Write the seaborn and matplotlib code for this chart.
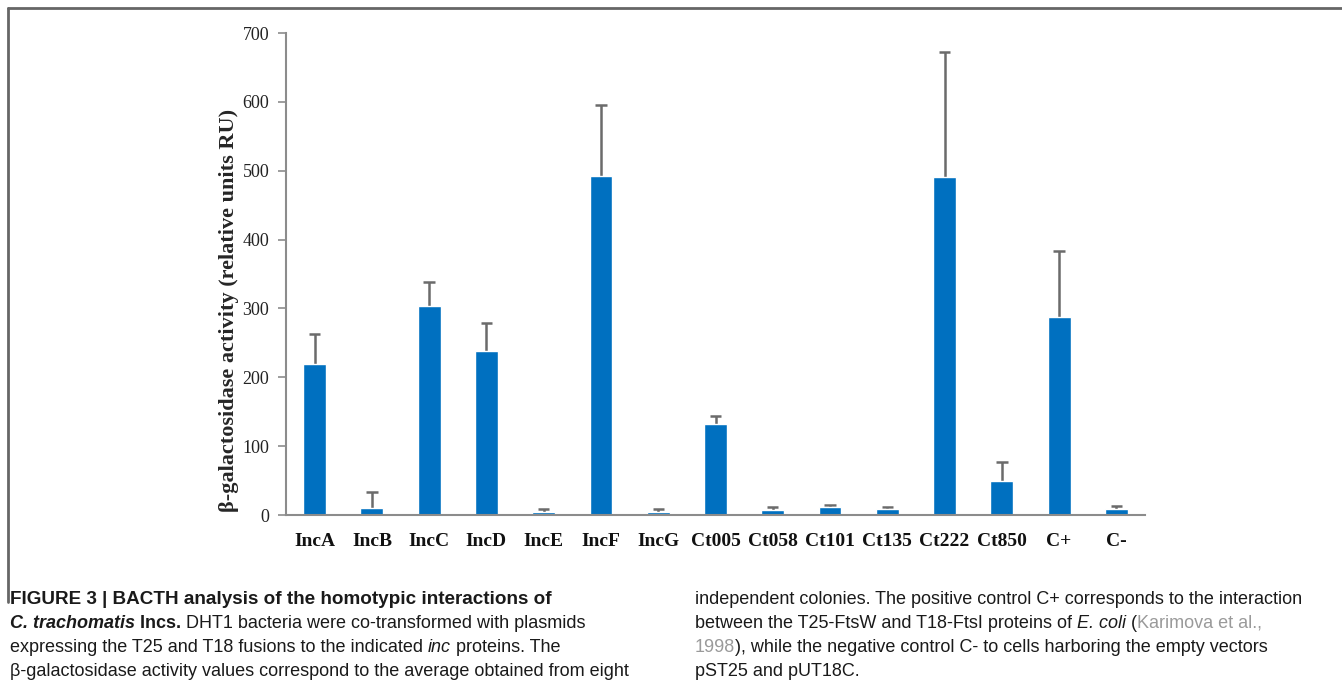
import matplotlib
matplotlib.use("Agg")
import matplotlib.pyplot as plt
import seaborn as sns
import pandas as pd
import numpy as np
from matplotlib.lines import Line2D

# data
constructs = ["IncA", "IncB", "IncC", "IncD", "IncE", "IncF", "IncG", "Ct005",
              "Ct058", "Ct101", "Ct135", "Ct222", "Ct850", "C+", "C-"]
activity = [219, 10, 303, 238, 4, 493, 4, 132, 7, 12, 8, 491, 50, 288, 8]
err_up = [44, 23, 35, 41, 5, 103, 5, 12, 4, 3, 3, 182, 27, 95, 5]
yticks = [0, 100, 200, 300, 400, 500, 600, 700]

BAR = "#0070C0"
AXIS = "#8c8c8c"
ERR = "#6b6b6b"
serif = ["Liberation Serif", "DejaVu Serif"]
sans = ["Liberation Sans Narrow", "Liberation Sans", "DejaVu Sans"]

sns.set_style("white")
plt.rcParams["font.family"] = serif

df = pd.DataFrame({"construct": constructs, "activity": activity})

fig = plt.figure(figsize=(13.42, 6.88), dpi=100)
ax = fig.add_axes([286 / 1342, 1 - 515 / 688, (1145 - 286) / 1342, (515 - 33) / 688])

sns.barplot(data=df, x="construct", y="activity", color=BAR, width=0.4,
            errorbar=None, saturation=1, ax=ax, zorder=2)

# one-sided error bars: whisker from bar top up, cap only at the top
xpos = np.arange(len(constructs))
tops = np.array(activity) + np.array(err_up)
ax.vlines(xpos, activity, tops, color=ERR, lw=1.8, zorder=1)
ax.hlines(tops, xpos - 0.1, xpos + 0.1, color=ERR, lw=1.8, zorder=1)

ax.set_ylim(0, 700)
ax.set_xlim(-0.5, len(constructs) - 0.5)
ax.set_yticks(yticks)
ax.set_yticklabels([str(v) for v in yticks], fontsize=13, color="#222222")
ax.set_xticks(xpos)
ax.set_xticklabels(constructs, fontsize=14, fontweight="bold", color="#111111")
ax.set_xticks(np.arange(len(constructs) + 1) - 0.5, minor=True)
ax.tick_params(axis="x", which="major", length=0, pad=13)
ax.tick_params(axis="x", which="minor", length=5, width=1.2, color=AXIS, direction="out")
ax.tick_params(axis="y", length=6, width=1.2, color=AXIS, direction="out", pad=6, left=True)
ax.set_xlabel("")
ax.set_ylabel("β-galactosidase activity (relative units RU)", fontsize=16,
              fontweight="bold")
ax.yaxis.set_label_coords((239 - 286) / 859, (515 - 310) / 482)
for side in ["top", "right"]:
    ax.spines[side].set_visible(False)
for side in ["left", "bottom"]:
    ax.spines[side].set_color(AXIS)
    ax.spines[side].set_linewidth(1.5)

# frame of the figure panel (top and left only)
fig.add_artist(Line2D([8 / 1342, 1], [1 - 8 / 688, 1 - 8 / 688], color="#666666",
                      lw=2, transform=fig.transFigure))
fig.add_artist(Line2D([8 / 1342, 8 / 1342], [1 - 8 / 688, 1 - 602 / 688], color="#666666",
                      lw=2, transform=fig.transFigure))

# caption, written piece by piece so that the styles can change inside a line
left_col = [
    [("FIGURE 3 | BACTH analysis of the homotypic interactions of", "bold", "normal", "#1a1a1a")],
    [("C. trachomatis", "bold", "italic", "#1a1a1a"), (" Incs.", "bold", "normal", "#1a1a1a"),
     (" DHT1 bacteria were co-transformed with plasmids", "normal", "normal", "#1a1a1a")],
    [("expressing the T25 and T18 fusions to the indicated ", "normal", "normal", "#1a1a1a"),
     ("inc", "normal", "italic", "#1a1a1a"), (" proteins. The", "normal", "normal", "#1a1a1a")],
    [("β-galactosidase activity values correspond to the average obtained from eight",
      "normal", "normal", "#1a1a1a")],
]
right_col = [
    [("independent colonies. The positive control C+ corresponds to the interaction",
      "normal", "normal", "#1a1a1a")],
    [("between the T25-FtsW and T18-FtsI proteins of ", "normal", "normal", "#1a1a1a"),
     ("E. coli", "normal", "italic", "#1a1a1a"), (" (", "normal", "normal", "#1a1a1a"),
     ("Karimova et al.,", "normal", "normal", "#9a9a9a")],
    [("1998", "normal", "normal", "#9a9a9a"),
     ("), while the negative control C- to cells harboring the empty vectors",
      "normal", "normal", "#1a1a1a")],
    [("pST25 and pUT18C.", "normal", "normal", "#1a1a1a")],
]

renderer = fig.canvas.get_renderer()
line_y = [604, 628, 652, 676]
for x0, col in [(10, left_col), (695, right_col)]:
    for y_px, pieces in zip(line_y, col):
        x_px = x0
        for txt, weight, style, color in pieces:
            size = 13.6 if (weight == "bold" and y_px == line_y[0]) else 13
            t = fig.text(x_px / 1342, 1 - y_px / 688, txt, fontsize=size, family=sans,
                         fontweight=weight, fontstyle=style, color=color,
                         ha="left", va="baseline")
            x_px += t.get_window_extent(renderer).width

fig.savefig("out.png", dpi=100)
